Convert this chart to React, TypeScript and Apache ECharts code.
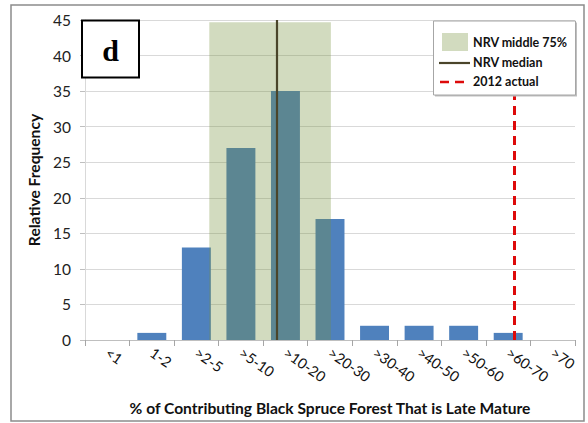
import React, { useEffect, useRef } from "react";
import * as echarts from "echarts";

const categories = ["<1", "1-2", ">2-5", ">5-10", ">10-20", ">20-30", ">30-40", ">40-50", ">50-60", ">60-70", ">70"];
const frequency = [0, 1, 13, 27, 35, 17, 2, 2, 2, 1, 0];
// positions on a continuous category scale (0 = left edge of "<1", 11 = right edge of ">70")
const nrvMiddleRange = [2.79, 5.52];
const nrvMiddleTop = 44.7;
const nrvMedian = 4.3;
const actual2012 = 9.64;
const yTicks = { min: 0, max: 45, interval: 5 };

const FONT = "Lato";

export default function App() {
  const ref = useRef<HTMLDivElement>(null);
  useEffect(() => {
    if (!ref.current) return;
    const chart = echarts.init(ref.current, undefined, { renderer: "svg" });
    chart.setOption({
      animation: false,
      backgroundColor: "#ffffff",
      textStyle: { fontFamily: FONT },
      grid: { left: 85, right: 13, top: 20, bottom: 83, containLabel: false, outerBoundsMode: "none" },
      xAxis: [
        {
          type: "category",
          data: categories,
          boundaryGap: true,
          axisLine: { show: true, lineStyle: { color: "#BFBFBF", width: 1 } },
          axisTick: { show: true, length: 6, lineStyle: { color: "#A6A6A6" } },
          axisLabel: { rotate: -35, fontSize: 14.5, color: "#111", margin: 11, fontFamily: FONT },
          splitLine: { show: false },
          name: "% of Contributing Black Spruce Forest That is Late Mature",
          nameLocation: "middle",
          nameGap: 60,
          nameTextStyle: { fontSize: 15.6, fontWeight: "bold", color: "#111", fontFamily: FONT },
        },
        {
          type: "value",
          min: 0,
          max: 11,
          show: false,
        },
      ],
      yAxis: {
        type: "value",
        min: yTicks.min,
        max: yTicks.max,
        interval: yTicks.interval,
        axisLine: { show: true, lineStyle: { color: "#D9D9D9" } },
        axisTick: { show: true, length: 5, lineStyle: { color: "#BFBFBF" } },
        axisLabel: { fontSize: 15.5, color: "#222", margin: 14, fontFamily: FONT },
        splitLine: { show: true, lineStyle: { color: "#D9D9D9", width: 1 } },
        name: "Relative Frequency",
        nameLocation: "middle",
        nameGap: 43,
        nameTextStyle: { fontSize: 15.6, fontWeight: "bold", color: "#111", fontFamily: FONT },
      },
      series: [
        {
          type: "bar",
          data: frequency,
          barWidth: "65%",
          z: 2,
          itemStyle: { color: "#4F81BD" },
        },
        {
          type: "line",
          xAxisIndex: 1,
          yAxisIndex: 0,
          data: [],
          symbol: "none",
          z: 3,
          silent: true,
          markArea: {
            silent: true,
            z: 10,
            itemStyle: { color: "rgba(119,147,60,0.33)" },
            data: [[{ coord: [nrvMiddleRange[0], 0] }, { coord: [nrvMiddleRange[1], nrvMiddleTop] }]],
          },
        },
        {
          type: "line",
          xAxisIndex: 1,
          yAxisIndex: 0,
          data: [],
          symbol: "none",
          z: 4,
          silent: true,
          markLine: {
            silent: true,
            z: 12,
            symbol: ["none", "none"],
            label: { show: false },
            data: [
              [
                { coord: [nrvMedian, 0], lineStyle: { color: "#4A452A", width: 2.2, type: "solid" } },
                { coord: [nrvMedian, 45] },
              ],
              [
                { coord: [actual2012, 0], lineStyle: { color: "#DD0A0A", width: 3, type: [9, 6] } },
                { coord: [actual2012, 44.7] },
              ],
            ],
          },
        },
      ],
      graphic: [
        {
          type: "rect",
          z: 100,
          shape: { x: 11, y: 5, width: 573, height: 416 },
          style: { fill: "none", stroke: "#8C8C8C", lineWidth: 1.5 },
        },
        {
          type: "rect",
          z: 100,
          shape: { x: 82, y: 20.5, width: 57, height: 57 },
          style: { fill: "#ffffff", stroke: "#000000", lineWidth: 2 },
        },
        {
          type: "text",
          z: 101,
          x: 110.5,
          y: 50,
          style: {
            text: "d",
            font: "bold 30px 'Liberation Serif', 'DejaVu Serif', serif",
            fill: "#000",
            align: "center",
            verticalAlign: "middle",
          },
        },
        {
          type: "rect",
          z: 99,
          shape: { x: 435, y: 22.5, width: 142, height: 74 },
          style: { fill: "#BFBFBF", stroke: "none" },
        },
        {
          type: "rect",
          z: 100,
          shape: { x: 433.5, y: 21, width: 142, height: 74 },
          style: { fill: "#ffffff", stroke: "#A6A6A6", lineWidth: 1 },
        },
        {
          type: "rect",
          z: 101,
          shape: { x: 442, y: 33, width: 26, height: 18 },
          style: { fill: "rgba(119,147,60,0.33)" },
        },
        {
          type: "text",
          z: 101,
          x: 473,
          y: 42.5,
          style: { text: "NRV middle 75%", font: `bold 12.5px ${FONT}`, fill: "#111", verticalAlign: "middle" },
        },
        {
          type: "line",
          z: 101,
          shape: { x1: 439, y1: 63, x2: 470, y2: 63 },
          style: { stroke: "#4A452A", lineWidth: 2.2 },
        },
        {
          type: "text",
          z: 101,
          x: 473,
          y: 62.5,
          style: { text: "NRV median", font: `bold 12.5px ${FONT}`, fill: "#111", verticalAlign: "middle" },
        },
        {
          type: "line",
          z: 101,
          shape: { x1: 440, y1: 82, x2: 470, y2: 82 },
          style: { stroke: "#DD0A0A", lineWidth: 2.5, lineDash: [9, 6] },
        },
        {
          type: "text",
          z: 101,
          x: 473,
          y: 81.5,
          style: { text: "2012 actual", font: `bold 12.5px ${FONT}`, fill: "#111", verticalAlign: "middle" },
        },
      ],
    });
    return () => chart.dispose();
  }, []);
  return (
    <div
      ref={ref}
      style={{ position: "fixed", left: 0, top: 0, width: 588, height: 423 }}
    />
  );
}
